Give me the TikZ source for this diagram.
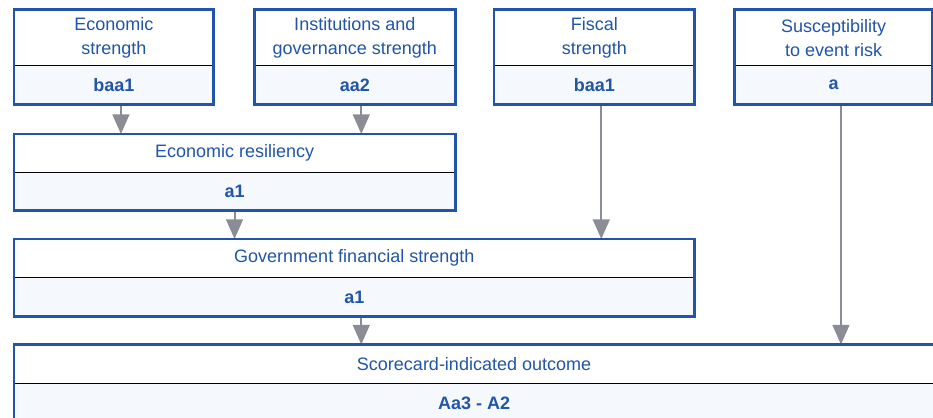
\documentclass[tikz,border=0pt]{standalone}
\usepackage{fontspec}
\setmainfont{Liberation Sans}
\usetikzlibrary{positioning,arrows.meta}

\definecolor{mdblue}{RGB}{33,85,170}
\definecolor{mdpale}{RGB}{245,249,253}
\definecolor{mdgray}{RGB}{138,141,150}
\newcommand{\pxl}{0.025cm}

\tikzset{
  head/.style={fill=white, text=mdblue, align=center, inner sep=0pt,
    font=\fontsize{12.8}{17}\selectfont},
  grade/.style={fill=mdpale, text=mdblue, inner sep=0pt,
    font=\fontsize{12.8}{17}\selectfont\bfseries},
  frame/.style={draw=mdblue, line width=2.1pt},
  divider/.style={draw=black, line width=0.8pt},
  link/.style={draw=mdgray, line width=1.4pt, -{Triangle[width=12pt,length=14pt]}}
}

\begin{document}
\begin{tikzpicture}[x=0.025cm, y=-0.025cm]
  \useasboundingbox (0,0) rectangle (933,417);
  \clip (0,0) rectangle (933,417);

  % top row of factors
  \node[head, anchor=north west, minimum width=199.3*\pxl, minimum height=55.3*\pxl] (econ) at (14,9.7) {Economic\\strength};
  \node[grade, below=0pt of econ, minimum width=199.3*\pxl, minimum height=38*\pxl] (econ-g) {baa1};

  \node[head, anchor=north west, minimum width=200*\pxl, minimum height=55.3*\pxl] (inst) at (254.5,9.7) {Institutions and\\governance strength};
  \node[grade, below=0pt of inst, minimum width=200*\pxl, minimum height=38*\pxl] (inst-g) {aa2};

  \node[head, anchor=north west, minimum width=200*\pxl, minimum height=55.3*\pxl] (fisc) at (494,9.7) {Fiscal\\strength};
  \node[grade, below=0pt of fisc, minimum width=200*\pxl, minimum height=38*\pxl] (fisc-g) {baa1};

  \node[head, anchor=north west, minimum width=197.3*\pxl, minimum height=55.3*\pxl] (event) at (734.7,9.7) {Susceptibility\\to event risk};
  \node[grade, below=0pt of event, minimum width=197.3*\pxl, minimum height=38*\pxl] (event-g) {a};

  % combined scores
  \node[head, anchor=north west, minimum width=440.5*\pxl, minimum height=38*\pxl] (resil) at (14,134) {Economic resiliency};
  \node[grade, below=0pt of resil, minimum width=440.5*\pxl, minimum height=37.5*\pxl] (resil-g) {a1};

  \node[head, anchor=north west, minimum width=680*\pxl, minimum height=38*\pxl] (gfs) at (14,239) {Government financial strength};
  \node[grade, below=0pt of gfs, minimum width=680*\pxl, minimum height=38.3*\pxl] (gfs-g) {a1};

  \node[head, anchor=north west, minimum width=919.5*\pxl, minimum height=38.8*\pxl] (score) at (14,344.5) {Scorecard-indicated outcome};
  \node[grade, below=0pt of score, minimum width=919.5*\pxl, minimum height=38*\pxl] (score-g) {Aa3 - A2};

  % arrows
  \draw[link] ([xshift=7*\pxl]econ-g.south) -- ([xshift=7*\pxl]econ-g.south |- resil.north);
  \draw[link] ([xshift=6.5*\pxl]inst-g.south) -- ([xshift=6.5*\pxl]inst-g.south |- resil.north);
  \draw[link] (resil-g.south) -- (resil-g.south |- gfs.north);
  \draw[link] ([xshift=7*\pxl]fisc-g.south) -- ([xshift=7*\pxl]fisc-g.south |- gfs.north);
  \draw[link] ([xshift=7*\pxl]gfs-g.south) -- ([xshift=7*\pxl]gfs-g.south |- score.north);
  \draw[link] ([xshift=7.3*\pxl]event-g.south) -- ([xshift=7.3*\pxl]event-g.south |- score.north);

  % dividers and frames
  \foreach \b in {econ,inst,fisc,event,resil,gfs,score}{
    \draw[divider] (\b.south west) -- (\b.south east);
    \draw[frame] (\b.north west) rectangle (\b-g.south east);
  }
\end{tikzpicture}
\end{document}
